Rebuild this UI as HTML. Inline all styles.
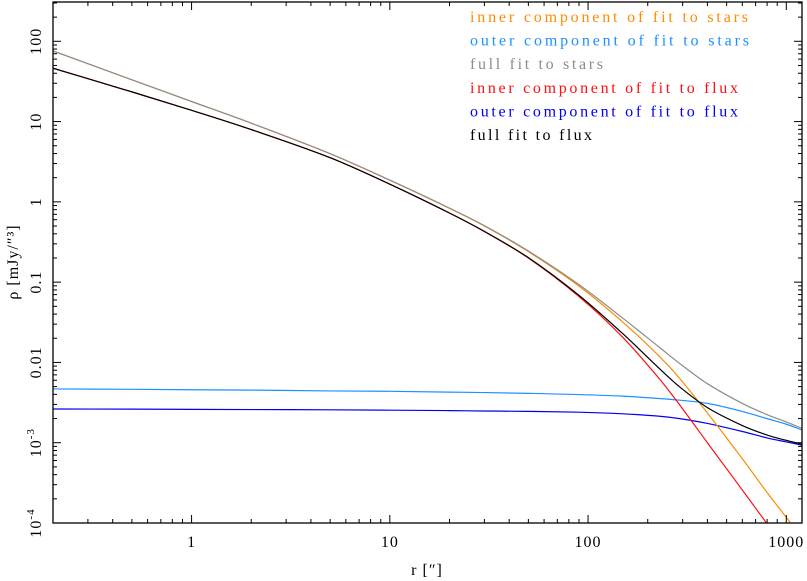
<!DOCTYPE html>
<html><head><meta charset="utf-8"><style>
html,body{margin:0;padding:0;background:#fff;}
svg{display:block;font-family:"Liberation Serif","DejaVu Serif",serif;}
</style></head><body>
<svg id="chart" width="807" height="581" xmlns="http://www.w3.org/2000/svg">
<defs><clipPath id="plotclip"><rect x="53" y="2" width="749" height="521"/></clipPath></defs>
<g id="curves" clip-path="url(#plotclip)"></g>
<g id="axes"></g>
<g id="legend"></g>
</svg>
<script>
// radii (arcsec)
const radii = [0.2, 0.5, 1, 2, 5, 10, 20, 30, 50, 90, 150, 230, 290, 400, 600, 800, 1000, 1200];
// log10 density values
const innerStarsLog = [1.88, 1.52, 1.25, 0.98, 0.60, 0.27, -0.08, -0.30, -0.62, -1.05, -1.50, -1.93, -2.20, -2.63, -3.20, -3.62, -3.93, -4.19];
const outerStarsLog = [-2.33, -2.335, -2.34, -2.345, -2.355, -2.36, -2.37, -2.375, -2.385, -2.40, -2.42, -2.45, -2.47, -2.51, -2.61, -2.70, -2.77, -2.84];
const innerFluxLog = [1.665, 1.37, 1.14, 0.90, 0.55, 0.22, -0.14, -0.37, -0.70, -1.18, -1.69, -2.21, -2.53, -3.00, -3.59, -4.01, -4.34, -4.60];
const outerFluxLog = [-2.58, -2.582, -2.585, -2.587, -2.59, -2.595, -2.60, -2.605, -2.61, -2.62, -2.64, -2.67, -2.70, -2.76, -2.86, -2.94, -2.99, -3.03];
const xTickLabels = ["1", "10", "100", "1000"];
const xTickValues = [1, 10, 100, 1000];
const yTickValues = [100, 10, 1, 0.1, 0.01, 0.001, 0.0001];
const yTickLabels = ["100", "10", "1", "0.1", "0.01", "10^-3", "10^-4"];

const NS = "http://www.w3.org/2000/svg";
const L = 53, R = 802, T = 2, B = 523;
const xMinLog = Math.log10(0.2), xMaxLog = Math.log10(1200);
const yMinLog = -4, yMaxLog = 2 + (41.3 - T) / 80.3;
function xs(r) { return L + (Math.log10(r) - xMinLog) / (xMaxLog - xMinLog) * (R - L); }
function ysLog(lg) { return B - (lg - yMinLog) / (yMaxLog - yMinLog) * (B - T); }
function ys(v) { return ysLog(Math.log10(v)); }
function mk(tag, attrs, parent) {
  const e = document.createElementNS(NS, tag);
  for (const k in attrs) e.setAttribute(k, attrs[k]);
  parent.appendChild(e); return e;
}
function sumLog(a, b) { return a.map((v, i) => Math.log10(Math.pow(10, v) + Math.pow(10, b[i]))); }
const fullStarsLog = sumLog(innerStarsLog, outerStarsLog);
const fullFluxLog = sumLog(innerFluxLog, outerFluxLog);

function pathFor(logs) {
  const pts = radii.map((r, i) => [xs(r), ysLog(logs[i])]);
  let d = "M" + pts[0][0].toFixed(2) + "," + pts[0][1].toFixed(2);
  for (let i = 0; i < pts.length - 1; i++) {
    const p0 = pts[Math.max(0, i - 1)], p1 = pts[i], p2 = pts[i + 1], p3 = pts[Math.min(pts.length - 1, i + 2)];
    const h = p2[0] - p1[0];
    const m1 = (p2[1] - p0[1]) / (p2[0] - p0[0]);
    const m2 = (p3[1] - p1[1]) / (p3[0] - p1[0]);
    const c1x = p1[0] + h / 3, c1y = p1[1] + m1 * h / 3;
    const c2x = p2[0] - h / 3, c2y = p2[1] - m2 * h / 3;
    d += " C" + c1x.toFixed(2) + "," + c1y.toFixed(2) + " " + c2x.toFixed(2) + "," + c2y.toFixed(2) + " " + p2[0].toFixed(2) + "," + p2[1].toFixed(2);
  }
  return d;
}
const curves = document.getElementById("curves");
const series = [
  ["outer-stars-curve", outerStarsLog, "#1e90ff"],
  ["outer-flux-curve", outerFluxLog, "#0000ee"],
  ["inner-stars-curve", innerStarsLog, "#ff8c00"],
  ["full-stars-curve", fullStarsLog, "#8c8c8c"],
  ["inner-flux-curve", innerFluxLog, "#ff1010"],
  ["full-flux-curve", fullFluxLog, "#000000"]
];
series.forEach(s => {
  const p = mk("path", { d: pathFor(s[1]), fill: "none", stroke: s[2], "stroke-width": 1.2 }, curves);
  
  
});

const axes = document.getElementById("axes");
const frame = mk("rect", { x: L, y: T, width: R - L, height: B - T, fill: "none", stroke: "#000", "stroke-width": 1.3 }, axes);


for (let dec = -1; dec <= 3; dec++) {
  for (let m = 1; m <= 9; m++) {
    const v = m * Math.pow(10, dec);
    if (v < 0.2 || v > 1200) continue;
    const x = xs(v), len = m === 1 ? 8 : 4;
    const t1 = mk("line", { x1: x, y1: B, x2: x, y2: B - len, stroke: "#000", "stroke-width": 1 }, axes);
    
    
    const t2 = mk("line", { x1: x, y1: T, x2: x, y2: T + len, stroke: "#000", "stroke-width": 1 }, axes);
    
    
  }
}
xTickValues.forEach((v, i) => {
  const t = mk("text", { x: xs(v), y: 547, "text-anchor": "middle", "font-size": 16, fill: "#000", "letter-spacing": "1" }, axes);
  t.textContent = xTickLabels[i];
  
  
});
for (let dec = -4; dec <= 2; dec++) {
  for (let m = 1; m <= 9; m++) {
    const v = m * Math.pow(10, dec);
    if (Math.log10(v) > yMaxLog) continue;
    const y = ys(v), len = m === 1 ? 8 : 4;
    const t1 = mk("line", { x1: L, y1: y, x2: L + len, y2: y, stroke: "#000", "stroke-width": 1 }, axes);
    
    
    const t2 = mk("line", { x1: R, y1: y, x2: R - len, y2: y, stroke: "#000", "stroke-width": 1 }, axes);
    
    
  }
}
yTickValues.forEach((v, i) => {
  const y = ys(v);
  const t = mk("text", { x: 0, y: 0, "text-anchor": "middle", "font-size": 16, fill: "#000", "letter-spacing": "1", transform: "translate(41," + y.toFixed(1) + ") rotate(-90)" }, axes);
  const lab = yTickLabels[i];
  if (lab.indexOf("^") >= 0) {
    const parts = lab.split("^");
    t.appendChild(document.createTextNode(parts[0]));
    const sup = mk("tspan", { dy: -7, "font-size": 11 }, t);
    sup.textContent = parts[1];
  } else t.textContent = lab;
  
  
});
const xt = mk("text", { x: 427, y: 575, "text-anchor": "middle", "font-size": 16, fill: "#000", "letter-spacing": "1" }, axes);
xt.textContent = "r [″]";


const yt = mk("text", { x: 0, y: 0, "text-anchor": "middle", "font-size": 16, fill: "#000", "letter-spacing": "1", transform: "translate(18,262) rotate(-90)" }, axes);
yt.textContent = "ρ [mJy/″³]";



const legendEntries = ["inner component of fit to stars", "outer component of fit to stars", "full fit to stars", "inner component of fit to flux", "outer component of fit to flux", "full fit to flux"];
const legendColors = ["#ff8c00", "#1e90ff", "#8c8c8c", "#ff1010", "#0000ee", "#000000"];
const legendWidths = [278, 279, 133, 268, 268, 122];
const lg = document.getElementById("legend");
legendEntries.forEach((s, i) => {
  const t = mk("text", { x: 470, y: 22 + i * 23.6, "font-size": 16, fill: legendColors[i], textLength: legendWidths[i], lengthAdjust: "spacing" }, lg);
  t.textContent = s;
  
  
});
</script>
</body></html>
